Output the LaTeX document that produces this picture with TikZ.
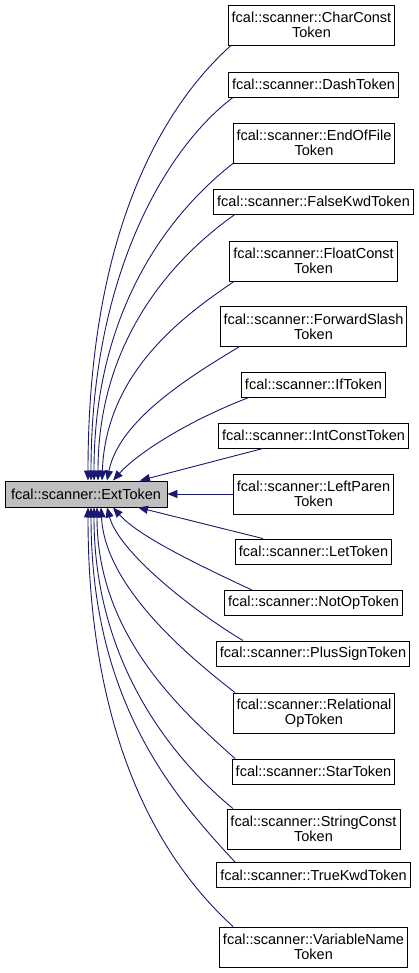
\documentclass[tikz,border=0pt]{standalone}
\usepackage{fontspec}
\setmainfont{Liberation Sans}
\usepackage{tikz}
\usetikzlibrary{arrows.meta,positioning}
\usepackage{xcolor}
\definecolor{edgeblue}{RGB}{25,25,112}
\definecolor{rootgrey}{RGB}{191,191,191}
\tikzset{
  cls/.style={draw=black,fill=white,line width=.9pt,inner xsep=3.5pt,inner ysep=0pt,
              minimum height=25pt,align=center,
              font=\fontsize{14.5}{15}\selectfont},
  cls2/.style={cls,minimum height=40pt},
  rootcls/.style={cls,fill=rootgrey,minimum height=26pt,minimum width=162pt},
  inh/.style={-{Triangle[length=10pt,width=8pt]},draw=edgeblue,line width=.9pt},
}

\begin{document}
\begin{tikzpicture}[x=1pt,y=-1pt]
  \useasboundingbox (0,0) rectangle (419,973);
  \node[rootcls]                     (root)      at (86,494)    {fcal::scanner::ExtToken};
  \node[cls2] (charconst) at (311.5,25)   {fcal::scanner::CharConst\\Token};
  \node[cls]  (dash)      at (313.5,84.5) {fcal::scanner::DashToken};
  \node[cls2] (eof)       at (314,143)    {fcal::scanner::EndOfFile\\Token};
  \node[cls]  (falsekwd)  at (313.5,201.5){fcal::scanner::FalseKwdToken};
  \node[cls2] (floatc)    at (313.5,261)  {fcal::scanner::FloatConst\\Token};
  \node[cls2] (fwdslash)  at (313.5,326.5){fcal::scanner::ForwardSlash\\Token};
  \node[cls]  (iftok)     at (313.5,384.5){fcal::scanner::IfToken};
  \node[cls]  (intc)      at (313.5,435.5){fcal::scanner::IntConstToken};
  \node[cls2] (lparen)    at (313.5,494)  {fcal::scanner::LeftParen\\Token};
  \node[cls]  (lettok)    at (313.5,551.5){fcal::scanner::LetToken};
  \node[cls]  (notop)     at (313.5,603)  {fcal::scanner::NotOpToken};
  \node[cls]  (plussign)  at (313,653.5)  {fcal::scanner::PlusSignToken};
  \node[cls2] (relop)     at (314,713)    {fcal::scanner::Relational\\OpToken};
  \node[cls]  (star)      at (313.5,771.5){fcal::scanner::StarToken};
  \node[cls2] (strc)      at (313.5,829)  {fcal::scanner::StringConst\\Token};
  \node[cls]  (truekwd)   at (313.5,875)  {fcal::scanner::TrueKwdToken};
  \node[cls2] (varname)   at (313.5,947)  {fcal::scanner::VariableName\\Token};
  % classes above the base
  \foreach \n/\sx/\ox/\oy/\ex/\ix/\iy in {charconst/-80.5/-67/60/2/0/-250,
      dash/-80.5/-64/48/5/0/-210, eof/-81/-55/43/8/0/-180,
      falsekwd/-78.5/-50/35/12/0/-150, floatc/-79.5/-48/33/16/4/-110,
      fwdslash/-74.5/-50/30/21/12/-60, iftok/-64.5/-60/23/27/25/-28}
    {\draw[inh] ([xshift=\sx pt]\n.south) .. controls +(\ox,\oy) and +(\ix,\iy)
       .. ([xshift=\ex pt]root.north);}
  \draw[inh] ([xshift=-50.5pt]intc.south) -- ([xshift=54pt]root.north);
  \draw[inh] (lparen) -- (root);
  % classes below the base
  \draw[inh] ([xshift=-50.5pt]lettok.north) -- ([xshift=52pt]root.south);
  \foreach \n/\sx/\ox/\oy/\ex/\ix/\iy in {notop/-61.5/-60/-28/27/25/28,
      plussign/-70/-50/-30/21/12/45, relop/-79/-45/-35/15/4/80,
      star/-78.5/-50/-45/11/0/130, strc/-80.5/-55/-45/8/0/160,
      truekwd/-78.5/-55/-60/5/0/200, varname/-80.5/-60/-55/2/0/250}
    {\draw[inh] ([xshift=\sx pt]\n.north) .. controls +(\ox,\oy) and +(\ix,\iy)
       .. ([xshift=\ex pt]root.south);}
\end{tikzpicture}
\end{document}
